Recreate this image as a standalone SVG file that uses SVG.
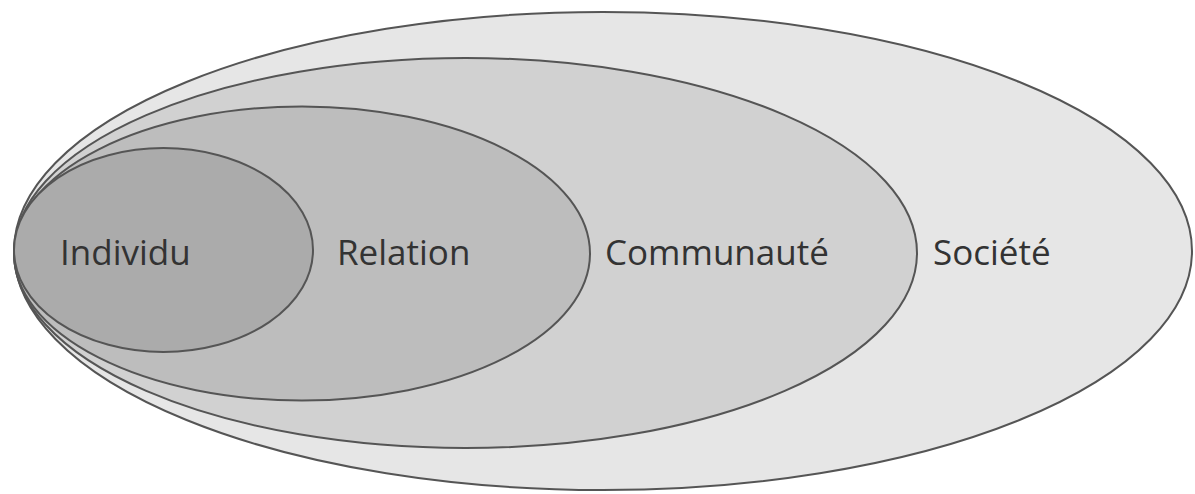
<svg xmlns="http://www.w3.org/2000/svg" width="1195" height="494" viewBox="0 0 1195 494">
<style>
.e{stroke:#555;stroke-width:2}
.t{font-family:"Open Sans","Noto Sans",sans-serif;font-size:35px;font-weight:400;fill:#333}
</style>
<rect width="1195" height="494" fill="#fff"/>
<g id="societe"><ellipse class="e" cx="603" cy="251" rx="589" ry="239" fill="#e6e6e6"/><text class="t" x="933" y="265">Société</text></g>
<g id="communaute"><ellipse class="e" cx="465.5" cy="253" rx="451.5" ry="195" fill="#d1d1d1"/><text class="t" x="605" y="265">Communauté</text></g>
<g id="relation"><ellipse class="e" cx="302" cy="253.5" rx="288" ry="147" fill="#bdbdbd"/><text class="t" x="337" y="265">Relation</text></g>
<g id="individu"><ellipse class="e" cx="163.5" cy="250" rx="149.5" ry="102" fill="#ababab"/><text class="t" x="60" y="265">Individu</text></g>
<g id="connectors"/>
</svg>
